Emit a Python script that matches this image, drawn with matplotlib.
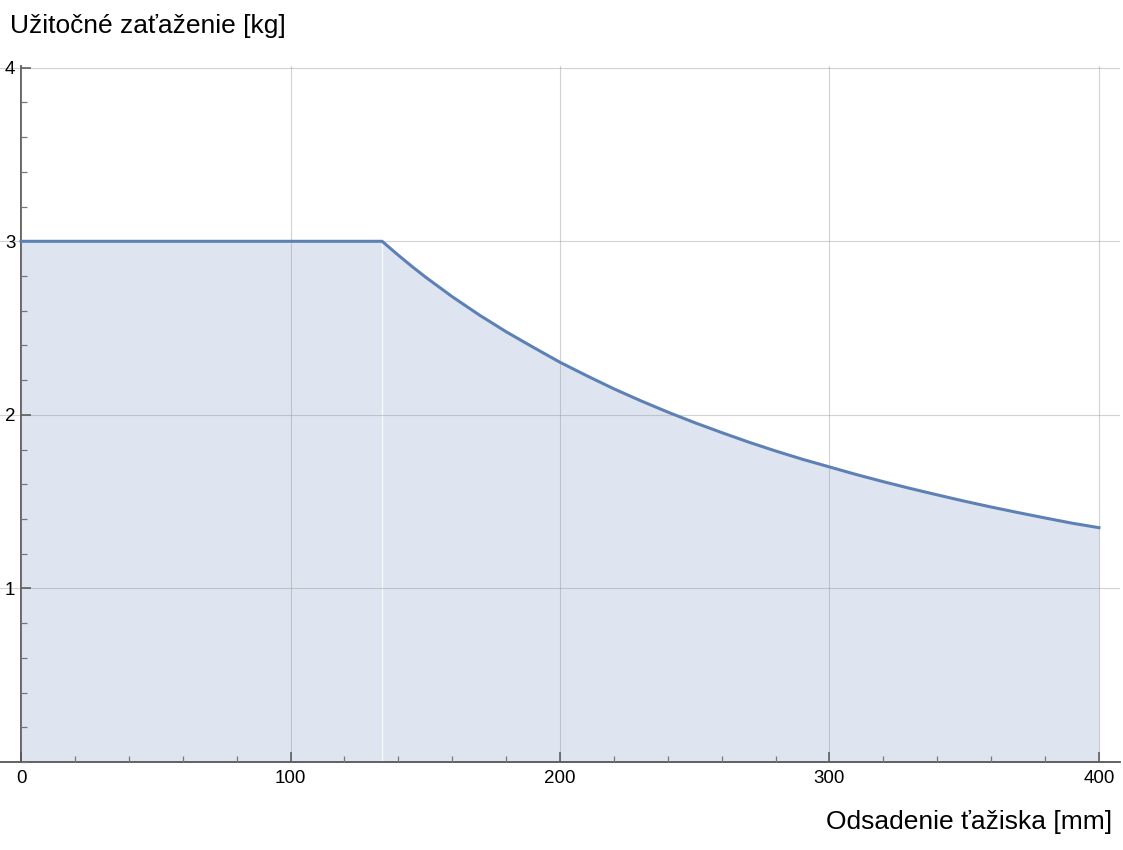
import matplotlib.pyplot as plt
import numpy as np
from matplotlib.ticker import MultipleLocator

plt.rcParams['font.family'] = ['Liberation Sans', 'DejaVu Sans']

# data
offset_mm = [0, 134, 140, 145, 150, 160, 170, 180, 190, 200, 210, 220, 230, 240, 250,
             260, 270, 280, 290, 300, 310, 320, 330, 340, 350, 360, 370, 380, 390, 400]
payload_kg = [3.000, 3.000, 2.920, 2.856, 2.795, 2.681, 2.576, 2.479, 2.390, 2.303,
              2.225, 2.150, 2.081, 2.016, 1.955, 1.898, 1.843, 1.792, 1.744, 1.700,
              1.656, 1.615, 1.576, 1.539, 1.503, 1.469, 1.437, 1.406, 1.376, 1.350]
knee = 134

xlabel = 'Odsadenie ťažiska [mm]'
ylabel = 'Užitočné zaťaženie [kg]'

line_col = '#5E81B5'
axis_col = '#555555'

fig = plt.figure(figsize=(11.23, 8.5), dpi=100)
ax = fig.add_axes([0.0, 1 - 762 / 850, 1120 / 1123, (762 - 66) / 850])

x = np.array(offset_mm)
y = np.array(payload_kg)

# fill in two pieces (gives the faint seam at the knee)
m1 = x <= knee
m2 = x >= knee
ax.fill_between(x[m1], 0, y[m1], color=line_col, alpha=0.2, lw=0, zorder=1)
ax.fill_between(x[m2], 0, y[m2], color=line_col, alpha=0.2, lw=0, zorder=1)
ax.plot([knee, knee], [0, 2.985], color='white', lw=1.0, alpha=0.6, zorder=1.5)

ax.plot(x, y, color=line_col, lw=2.2, zorder=3, solid_joinstyle='round')

ax.set_xlim(-7.8, 407.8)
ax.set_ylim(0, 4.01)

ax.spines['left'].set_position(('data', 0))
ax.spines['bottom'].set_position(('data', 0))
ax.spines['right'].set_visible(False)
ax.spines['top'].set_visible(False)
for s in ['left', 'bottom']:
    ax.spines[s].set_color(axis_col)
    ax.spines[s].set_linewidth(1.3)
ax.spines['left'].set_bounds(0, 4.01)
ax.patch.set_alpha(0)

ax.xaxis.set_major_locator(MultipleLocator(100))
ax.xaxis.set_minor_locator(MultipleLocator(20))
ax.yaxis.set_major_locator(MultipleLocator(1))
ax.yaxis.set_minor_locator(MultipleLocator(0.2))
ax.set_yticks([1, 2, 3, 4])

ax.tick_params(which='major', direction='in', length=7, width=1.1, color=axis_col,
               labelsize=13.5, labelcolor='black')
ax.tick_params(which='minor', direction='in', length=4, width=0.9, color='#777777')
ax.tick_params(axis='x', pad=6)
ax.tick_params(axis='y', pad=4)

ax.grid(True, which='major', color='#909090', alpha=0.4, lw=0.8, zorder=2)
ax.set_axisbelow(False)
for gl in ax.get_xgridlines() + ax.get_ygridlines():
    gl.set_zorder(2)

# the x grid line at 0 coincides with the axis
ax.get_xgridlines()[0].set_visible(False)

fig.text(10 / 1123, 1 - 33 / 850, ylabel, fontsize=19, ha='left', va='baseline')
fig.text(1112 / 1123, 1 - 829 / 850, xlabel, fontsize=19, ha='right', va='baseline')

plt.savefig('out.png', dpi=100)
